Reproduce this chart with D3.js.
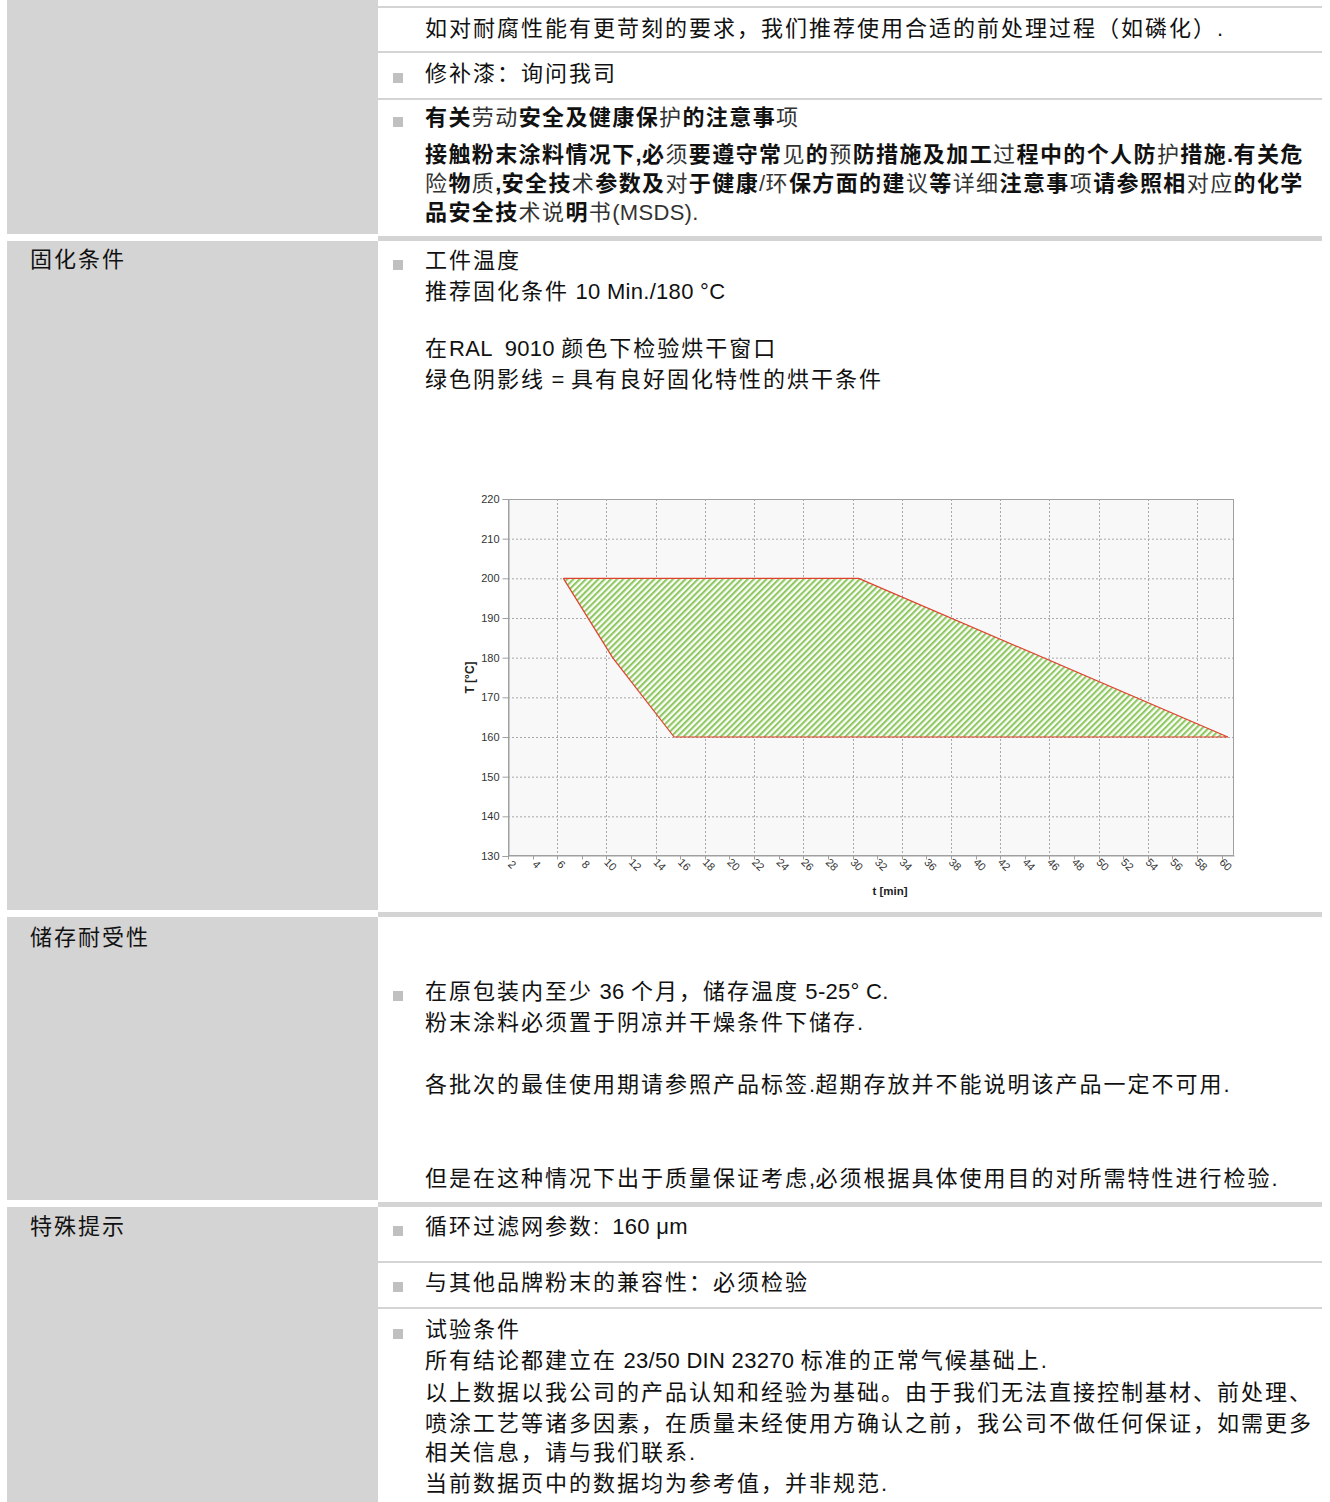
<!DOCTYPE html>
<html>
<head>
<meta charset="utf-8">
<script src="https://cdn.jsdelivr.net/npm/d3@7"></script>
<style>
  body { margin: 0; background: #fff; }
  text { white-space: pre; }
</style>
</head>
<body>
<script>
// 烘干窗口数据 (t [min], T [°C])
const minutes = [2, 3, 4, 5, 6, 7, 8, 9, 10, 11, 12, 13, 14, 15, 16, 17, 18, 19, 20, 21, 22, 23, 24, 25, 26, 27, 28, 29, 30,
  31, 32, 33, 34, 35, 36, 37, 38, 39, 40, 41, 42, 43, 44, 45, 46, 47, 48, 49, 50, 51, 52, 53, 54, 55, 56, 57, 58, 59, 60];
const xTickLabels = [2, 4, 6, 8, 10, 12, 14, 16, 18, 20, 22, 24, 26, 28, 30, 32, 34, 36, 38, 40, 42, 44, 46, 48, 50, 52, 54, 56, 58, 60];
const xGridMinutes = [6, 10, 14, 18, 22, 26, 30, 34, 38, 42, 46, 50, 54, 58];
const yTicks = [130, 140, 150, 160, 170, 180, 190, 200, 210, 220];

const upperTime = [6, 30, 60];
const upperTemp = [200, 200, 160];
const lowerTime = [6, 10, 15, 60];
const lowerTemp = [200, 180, 160, 160];

// 页面文字
const leftLabels = [
  { text: "固化条件", y: 267 },
  { text: "储存耐受性", y: 945 },
  { text: "特殊提示", y: 1234 }
];
// bold lines: "|" toggles bold / normal, starting bold
const lines = [
  { text: "如对耐腐性能有更苛刻的要求，我们推荐使用合适的前处理过程（如磷化）.", y: 36 },
  { text: "修补漆：询问我司", y: 81, bullet: true },
  { text: "有关|劳动|安全及健康保|护|的注意事|项", y: 125, bullet: true, bold: true },
  { text: "接触粉末涂料情况下,必|须|要遵守常|见|的|预|防措施及加工|过|程中的个人防|护|措施.有关危", y: 162, bold: true },
  { text: "|险|物|质|,安全技|术|参数及|对|于健康|/环|保方面的建|议|等|详细|注意事|项|请参照相|对应|的化学", y: 191, bold: true },
  { text: "品安全技|术说|明|书(MSDS).", y: 220, bold: true },
  { text: "工件温度", y: 268, bullet: true },
  { text: "推荐固化条件 10 Min./180 °C", y: 299 },
  { text: "在RAL  9010 颜色下检验烘干窗口", y: 356 },
  { text: "绿色阴影线 = 具有良好固化特性的烘干条件", y: 387 },
  { text: "在原包装内至少 36 个月，储存温度 5-25° C.", y: 999, bullet: true },
  { text: "粉末涂料必须置于阴凉并干燥条件下储存.", y: 1030 },
  { text: "各批次的最佳使用期请参照产品标签.超期存放并不能说明该产品一定不可用.", y: 1092 },
  { text: "但是在这种情况下出于质量保证考虑,必须根据具体使用目的对所需特性进行检验.", y: 1186 },
  { text: "循环过滤网参数:  160 μm", y: 1234, bullet: true },
  { text: "与其他品牌粉末的兼容性：必须检验", y: 1290, bullet: true },
  { text: "试验条件", y: 1337, bullet: true },
  { text: "所有结论都建立在 23/50 DIN 23270 标准的正常气候基础上.", y: 1368 },
  { text: "以上数据以我公司的产品认知和经验为基础。由于我们无法直接控制基材、前处理、", y: 1400 },
  { text: "喷涂工艺等诸多因素，在质量未经使用方确认之前，我公司不做任何保证，如需更多", y: 1431 },
  { text: "相关信息，请与我们联系.", y: 1460 },
  { text: "当前数据页中的数据均为参考值，并非规范.", y: 1491 }
];

const W = 1330, H = 1502;
const svg = d3.select("body").append("svg")
  .attr("width", W).attr("height", H)
  .style("display", "block");

const gray = "#d4d4d4";
const colX = 7, colSplit = 378, colEnd = 1322;

// left column cells
[[0, 234], [241, 910], [917, 1200], [1207, H]].forEach(c => {
  svg.append("rect").attr("x", colX).attr("y", c[0])
    .attr("width", colSplit - colX).attr("height", c[1] - c[0])
    .attr("fill", gray);
});
// right column separators
[6, 51, 98, 1261, 1307].forEach(y => {
  svg.append("rect").attr("x", colSplit).attr("y", y)
    .attr("width", colEnd - colSplit).attr("height", 2).attr("fill", gray);
});
[236, 912, 1202].forEach(y => {
  svg.append("rect").attr("x", colSplit).attr("y", y)
    .attr("width", colEnd - colSplit).attr("height", 5).attr("fill", gray);
});

const cjk = /([\u2E80-\u9FFF\u3000-\u303F\uFF00-\uFFEF]+)/;
function addRuns(textSel, str, weight, fill, spacing) {
  str.split(cjk).filter(s => s.length).forEach(s => {
    const isCjk = cjk.test(s);
    textSel.append("tspan")
      .attr("font-size", 22)
      .attr("letter-spacing", isCjk ? spacing : 0.3)
      .attr("font-weight", weight)
      .attr("fill", fill)
      .text(s);
  });
}
function writeLine(x, y, str, bold) {
  const t = svg.append("text").attr("x", x).attr("y", y)
    .attr("font-family", "'Liberation Sans', 'Noto Sans CJK SC', sans-serif");
  if (bold) {
    str.split("|").forEach((s, i) => {
      if (s.length) addRuns(t, s, i % 2 === 0 ? "bold" : "normal", i % 2 === 0 ? "#111" : "#333", 1.4);
    });
  } else {
    addRuns(t, str, "normal", "#111", 2);
  }
}

leftLabels.forEach(d => writeLine(30, d.y, d.text, false));
lines.forEach(d => {
  writeLine(425, d.y, d.text, d.bold);
  if (d.bullet) {
    svg.append("rect").attr("x", 393).attr("y", d.y - 8)
      .attr("width", 10).attr("height", 10).attr("fill", "#c0c0c0");
  }
});

// ---- chart ----
const plot = { left: 508, top: 499, right: 1234, bottom: 856 };
const x = d3.scaleBand().domain(minutes).range([plot.left, plot.right]);
const y = d3.scaleLinear().domain([130, 220]).range([plot.bottom, plot.top]);
const cx = t => x(t) + x.bandwidth() / 2;

const defs = svg.append("defs");
const pat = defs.append("pattern").attr("id", "hatch")
  .attr("patternUnits", "userSpaceOnUse")
  .attr("width", 4.4).attr("height", 4.4)
  .attr("patternTransform", "rotate(45)");
pat.append("rect").attr("width", 4.4).attr("height", 4.4).attr("fill", "#fbfdf8");
pat.append("rect").attr("width", 2.1).attr("height", 4.4).attr("fill", "#8fc862");

const chart = svg.append("g");
chart.append("rect")
  .attr("x", plot.left).attr("y", plot.top)
  .attr("width", plot.right - plot.left).attr("height", plot.bottom - plot.top)
  .attr("fill", "#f8f8f8");

// grid
chart.selectAll(".hgrid").data(yTicks.slice(1, -1)).enter().append("line")
  .attr("x1", plot.left).attr("x2", plot.right)
  .attr("y1", d => y(d) + 0.5).attr("y2", d => y(d) + 0.5)
  .attr("stroke", "#a8a8a8").attr("stroke-dasharray", "2,2");
chart.selectAll(".vgrid").data(xGridMinutes).enter().append("line")
  .attr("x1", d => Math.round(x(d)) + 0.5).attr("x2", d => Math.round(x(d)) + 0.5)
  .attr("y1", plot.top).attr("y2", plot.bottom)
  .attr("stroke", "#a8a8a8").attr("stroke-dasharray", "2,2");

// bake window
const upper = upperTime.map((t, i) => [cx(t), y(upperTemp[i])]);
const lower = lowerTime.map((t, i) => [cx(t), y(lowerTemp[i])]);
const poly = upper.concat(lower.slice().reverse());
chart.append("path")
  .attr("d", d3.line()(poly) + "Z")
  .attr("fill", "url(#hatch)");
[upper, lower].forEach(pts => {
  chart.append("path").attr("d", d3.line()(pts))
    .attr("fill", "none").attr("stroke", "#e2402f").attr("stroke-width", 1.2);
});

// frame
chart.append("rect")
  .attr("x", plot.left + 0.5).attr("y", plot.top + 0.5)
  .attr("width", plot.right - plot.left - 1).attr("height", plot.bottom - plot.top - 1)
  .attr("fill", "none").attr("stroke", "#a0a0a0");

// y axis
const yAxis = chart.append("g")
  .attr("transform", `translate(${plot.left + 0.5},0)`)
  .call(d3.axisLeft(y).tickValues(yTicks).tickSize(6).tickPadding(3));
yAxis.select(".domain").attr("stroke", "#a0a0a0");
yAxis.selectAll(".tick line").attr("stroke", "#a0a0a0");
yAxis.selectAll(".tick text")
  .attr("font-family", "'Liberation Sans', sans-serif")
  .attr("font-size", 11).attr("fill", "#333");

// x axis
const xAxis = chart.append("g")
  .attr("transform", `translate(0,${plot.bottom - 0.5})`)
  .call(d3.axisBottom(x).tickValues(xTickLabels).tickSize(0).tickFormat(""));
xAxis.select(".domain").attr("stroke", "#a0a0a0");
xAxis.selectAll(".tick").remove();
xAxis.selectAll(".xt").data(xTickLabels).enter().append("line")
  .attr("x1", d => Math.round(x(d)) + 0.5).attr("x2", d => Math.round(x(d)) + 0.5)
  .attr("y1", 0).attr("y2", 4).attr("stroke", "#a0a0a0");
xAxis.selectAll(".xl").data(xTickLabels).enter().append("text")
  .attr("transform", d => `translate(${cx(d) - 2},${9}) rotate(45)`)
  .attr("font-family", "'Liberation Sans', sans-serif")
  .attr("font-size", 11).attr("fill", "#333")
  .attr("dy", "0.35em")
  .text(d => d);

// axis titles
chart.append("text")
  .attr("transform", `translate(${474},${(plot.top + plot.bottom) / 2}) rotate(-90)`)
  .attr("text-anchor", "middle")
  .attr("font-family", "'Liberation Sans', sans-serif")
  .attr("font-size", 12).attr("font-weight", "bold").attr("fill", "#222")
  .text("T [°C]");
chart.append("text")
  .attr("x", 890).attr("y", 895)
  .attr("text-anchor", "middle")
  .attr("font-family", "'Liberation Sans', sans-serif")
  .attr("font-size", 11.5).attr("font-weight", "bold").attr("fill", "#222")
  .text("t [min]");
</script>
</body>
</html>
